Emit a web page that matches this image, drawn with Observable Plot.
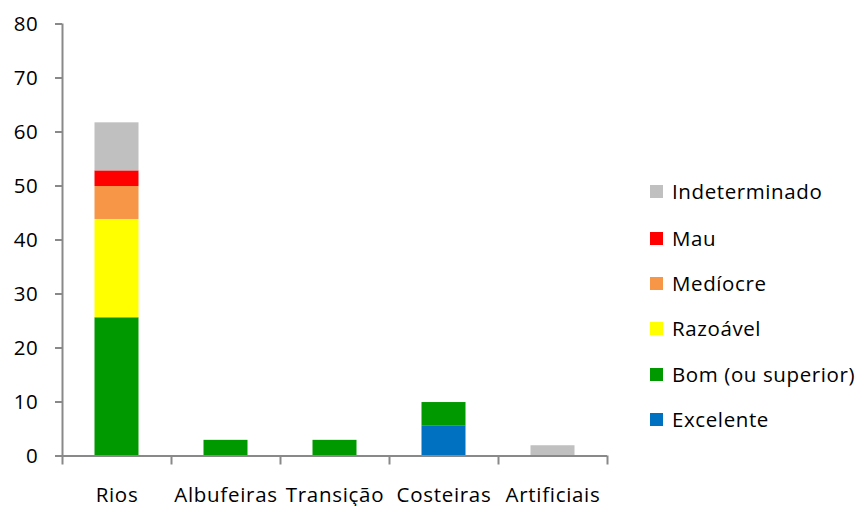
<!DOCTYPE html>
<html><head><meta charset="utf-8">
<script src="https://cdn.jsdelivr.net/npm/d3@7"></script>
<script src="https://cdn.jsdelivr.net/npm/@observablehq/plot@0.6"></script>
<style>
body{margin:0;background:#fff;font-family:"Open Sans",sans-serif;}
#wrap{position:relative;width:856px;height:506px;overflow:hidden;}
#legend{position:absolute;left:650px;top:0;}
.li{position:absolute;left:0;display:flex;align-items:center;white-space:nowrap;font-size:20.5px;letter-spacing:0.6px;color:#000;transform:translateY(-50%);}
.sw{width:13px;height:13px;margin-right:9px;}
</style></head>
<body><div id="wrap"><div id="legend"></div></div>
<script>
const categories = ["Rios","Albufeiras","Transição","Costeiras","Artificiais"];
const statuses = ["Excelente","Bom (ou superior)","Razoável","Medíocre","Mau","Indeterminado"];
const colors = ["#0070C0","#009900","#FFFF00","#F79646","#FF0000","#C0C0C0"];
const excelente = [0, 0, 0, 5.6, 0];
const bom = [25.6, 2.9, 2.9, 4.3, 0];
const razoavel = [18.2, 0, 0, 0, 0];
const mediocre = [6.1, 0, 0, 0, 0];
const mau = [2.9, 0, 0, 0, 0];
const indeterminado = [8.9, 0, 0, 0, 1.9];
const yTicks = [0,10,20,30,40,50,60,70,80];

const series = [excelente,bom,razoavel,mediocre,mau,indeterminado];
const data = [];
categories.forEach((c,i)=>series.forEach((s,k)=>{ if(s[i]>0) data.push({cat:c, i, status:statuses[k], value:s[i]}); }));

const chart = Plot.plot({
  width:856, height:506,
  marginLeft:62, marginRight:249, marginTop:23.5, marginBottom:50.5,
  style:{fontFamily:"'Open Sans', sans-serif", fontSize:"20.5px", letterSpacing:"0.7px", background:"white"},
  x:{type:"linear", domain:[0,categories.length], axis:null},
  y:{domain:[0,80], axis:null},
  color:{domain:statuses, range:colors},
  marks:[
    Plot.rectY(data, Plot.stackY({order:statuses}, {x1:d=>d.i, x2:d=>d.i+1, y:"value", fill:"status", insetLeft:32.5, insetRight:32.5})),
    Plot.axisY({ticks:yTicks, label:null, tickSize:7, tickPadding:17, stroke:"#898989", strokeWidth:2, fill:"black", fontSize:20.5, tickFormat:d=>d}),
    Plot.axisX({ticks:d3.range(categories.length+1), label:null, tickSize:9, stroke:"#898989", strokeWidth:2, tickFormat:()=>""}),
    Plot.ruleX([0], {stroke:"#898989", strokeWidth:2}),
    Plot.ruleY([0], {stroke:"#898989", strokeWidth:2}),
    Plot.text(categories, {x:(d,i)=>i+0.5, y:()=>0, dy:39, text:d=>d, fill:"black", fontSize:20.5})
  ]
});
document.getElementById("wrap").prepend(chart);

const lg = document.getElementById("legend");
const legendY = [419,374,328,283,238,191];
statuses.forEach((s,k)=>{
  const el = document.createElement("div");
  el.className="li"; el.style.top = legendY[k]+"px";
  el.innerHTML = `<div class="sw" style="background:${colors[k]}"></div><span>${s}</span>`;
  lg.appendChild(el);
});
</script></body></html>
